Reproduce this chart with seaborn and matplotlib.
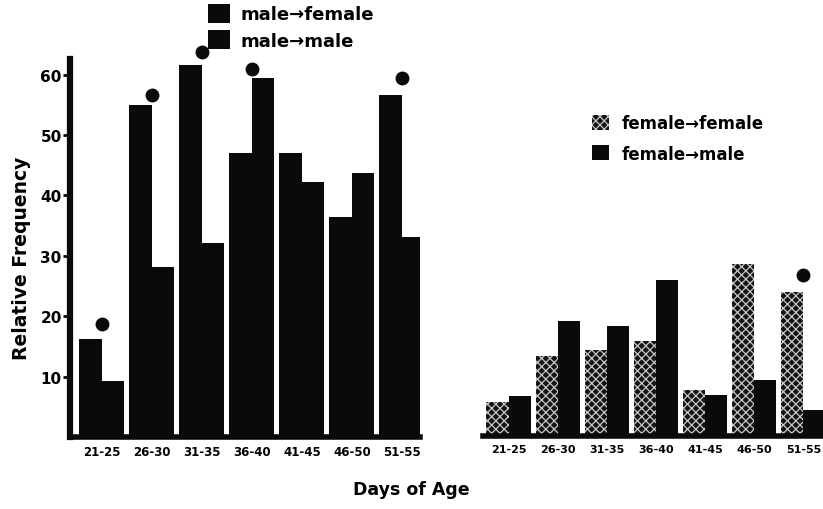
import matplotlib
matplotlib.use("Agg")
import matplotlib.pyplot as plt
import numpy as np
import pandas as pd
import seaborn as sns
from matplotlib.patches import Patch

# ---------------- data ----------------
ages = ["21-25", "26-30", "31-35", "36-40", "41-45", "46-50", "51-55"]
male_to_female = [16.3, 54.9, 61.6, 47.0, 47.0, 36.5, 56.7]
male_to_male = [9.2, 28.2, 32.1, 59.4, 42.3, 43.7, 33.2]
female_to_female = [5.7, 13.3, 14.2, 15.8, 7.6, 28.6, 23.9]
female_to_male = [6.6, 19.1, 18.2, 25.9, 6.8, 9.3, 4.3]
left_labels = ["male\u2192female", "male\u2192male"]
right_labels = ["female\u2192female", "female\u2192male"]
left_dot_groups = ["21-25", "26-30", "31-35", "36-40", "51-55"]
left_dot_values = [18.7, 56.6, 63.7, 60.9, 59.4]
right_dot_groups = ["51-55"]
right_dot_values = [26.7]
y_ticks = [10, 20, 30, 40, 50, 60]

sns.set_style("white")
plt.rcParams["font.family"] = ["DejaVu Sans"]
plt.rcParams["hatch.linewidth"] = 0.9
plt.rcParams["text.color"] = "black"
plt.rcParams["xtick.color"] = "black"
plt.rcParams["ytick.color"] = "black"
plt.rcParams["xtick.labelcolor"] = "black"
plt.rcParams["ytick.labelcolor"] = "black"

dfL = pd.DataFrame({
    "age": ages * 2,
    "value": male_to_female + male_to_male,
    "pair": [left_labels[0]] * 7 + [left_labels[1]] * 7,
})
dfR = pd.DataFrame({
    "age": ages * 2,
    "value": female_to_female + female_to_male,
    "pair": [right_labels[0]] * 7 + [right_labels[1]] * 7,
})

BLACK = "#0a0a0a"
HATCH_FACE = "#141414"
HATCH_COL = "#c8c8c8"

fig = plt.figure(figsize=(8.23, 5.10), dpi=100)
axL = fig.add_axes([70 / 823, 72 / 510, 350 / 823, 378 / 510])
axR = fig.add_axes([483 / 823, 73 / 510, 340 / 823, 377 / 510])

# ---------------- left panel ----------------
sns.barplot(data=dfL, x="age", y="value", hue="pair", hue_order=left_labels,
            order=ages, palette=[BLACK, BLACK], width=0.9, linewidth=0,
            saturation=1, legend=False, ax=axL)
sns.scatterplot(x=[ages.index(g) for g in left_dot_groups], y=left_dot_values,
                s=100, color=BLACK, linewidth=0, clip_on=False, zorder=5,
                legend=False, ax=axL)
axL.set_xlim(-0.63, 6.36)
axL.set_ylim(0, 62.6)
axL.set_yticks(y_ticks)
axL.set_yticklabels([str(t) for t in y_ticks], fontsize=11, fontweight="bold")
axL.tick_params(axis="y", length=5, width=2, color=BLACK, left=True, pad=1)
axL.tick_params(axis="x", length=0, pad=6)
for lab in axL.get_xticklabels():
    lab.set_fontsize(8.5)
    lab.set_fontweight("bold")
axL.set_xlabel("")
axL.set_ylabel("")
for s in ["top", "right"]:
    axL.spines[s].set_visible(False)
axL.spines["left"].set_linewidth(4.5)
axL.spines["bottom"].set_linewidth(4)
axL.spines["left"].set_color(BLACK)
axL.spines["bottom"].set_color(BLACK)

# ---------------- right panel ----------------
sns.barplot(data=dfR, x="age", y="value", hue="pair", hue_order=right_labels,
            order=ages, palette=[HATCH_FACE, BLACK], width=0.9, linewidth=0,
            saturation=1, legend=False, ax=axR)
for bar in axR.containers[0]:
    bar.set_hatch("xxxx")
    bar.set_edgecolor(HATCH_COL)
    bar.set_linewidth(0)
sns.scatterplot(x=[ages.index(g) for g in right_dot_groups], y=right_dot_values,
                s=100, color=BLACK, linewidth=0, clip_on=False, zorder=5,
                legend=False, ax=axR)
axR.set_xlim(-0.52, 6.40)
axR.set_ylim(0, 62.6)
axR.set_yticks([])
axR.tick_params(axis="x", length=0, pad=6)
for lab in axR.get_xticklabels():
    lab.set_fontsize(8.0)
    lab.set_fontweight("bold")
axR.set_xlabel("")
axR.set_ylabel("")
for s in ["top", "right", "left"]:
    axR.spines[s].set_visible(False)
axR.spines["bottom"].set_linewidth(4)
axR.spines["bottom"].set_color(BLACK)

# ---------------- legends ----------------
fig.legend(handles=[Patch(facecolor=BLACK, linewidth=0),
                    Patch(facecolor=BLACK, linewidth=0)],
           labels=left_labels, loc="upper left",
           bbox_to_anchor=(208 / 823, 1 - 5 / 510), frameon=False,
           prop={"size": 13, "weight": "bold"}, handlelength=1.2,
           handleheight=1.2, labelspacing=0.38, handletextpad=0.6,
           borderpad=0, borderaxespad=0, labelcolor="black")
fig.legend(handles=[Patch(facecolor=HATCH_FACE, edgecolor=HATCH_COL,
                          hatch="xxxx", linewidth=0),
                    Patch(facecolor=BLACK, linewidth=0)],
           labels=right_labels, loc="upper left",
           bbox_to_anchor=(592 / 823, 1 - 115 / 510), frameon=False,
           prop={"size": 12, "weight": "bold"}, handlelength=1.0,
           handleheight=1.0, labelspacing=0.75, handletextpad=0.8,
           borderpad=0, borderaxespad=0, labelcolor="black")

# ---------------- axis titles ----------------
fig.text(22 / 823, 1 - 258 / 510, "Relative Frequency", rotation=90,
         ha="center", va="center", fontsize=13.5, fontweight="bold", color="black")
fig.text(411 / 823, 1 - 490 / 510, "Days of Age", ha="center", va="center",
         fontsize=12.5, fontweight="bold", color="black")

fig.savefig("out.png", dpi=100, facecolor="white")
